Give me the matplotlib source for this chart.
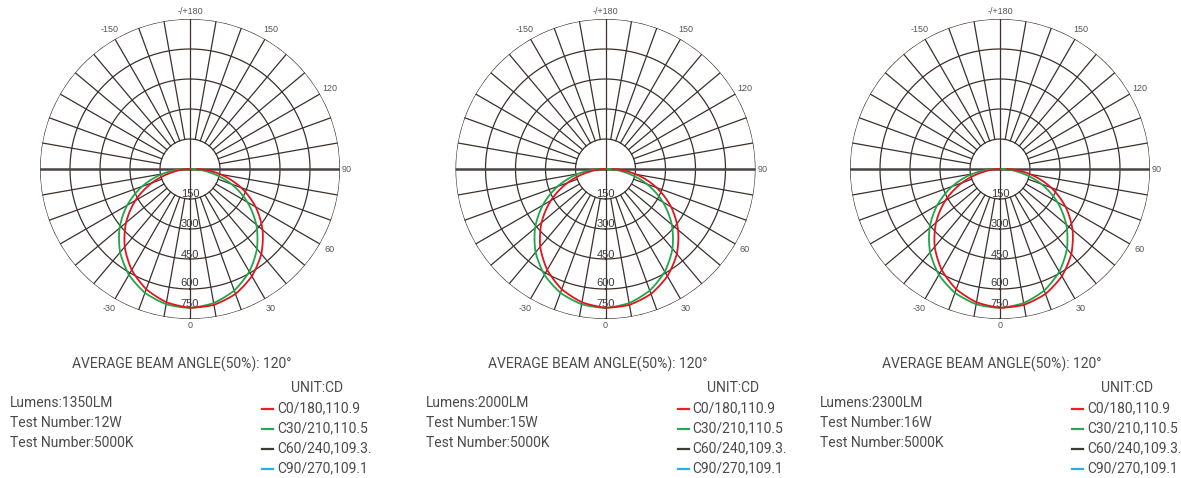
import numpy as np
import matplotlib
matplotlib.use("Agg")
import matplotlib.pyplot as plt
from matplotlib.lines import Line2D

W, H = 1181, 478

# measured angles (deg, 0 = straight down, positive towards the right)
angles = [-90, -80, -70, -60, -50, -40, -30, -20, -10, 0, 10, 20, 30, 40, 50, 60, 70, 80, 90]
# C0/180 (red) and C30/210 (green) intensities in cd
c0_cd = [0, 85, 203, 316, 418, 508, 583, 640, 677, 694, 690, 665, 619, 555, 474, 379, 272, 156, 36]
c30_cd = [18, 139, 255, 363, 460, 544, 611, 659, 687, 695, 681, 647, 593, 521, 433, 332, 221, 103, 0]

rings = [150, 300, 450, 600, 750]
ring_labels = ["150", "300", "450", "600", "750"]
angle_ticks = [180, 150, 120, 90, 60, 30, 0, -30, -150]
angle_tick_labels = ["-/+180", "150", "120", "90", "60", "30", "0", "-30", "-150"]

lumens = ["1350LM", "2000LM", "2300LM"]
watts = ["12W", "15W", "16W"]
cct = "5000K"
beam_angle = 120
legend_names = ["C0/180,110.9", "C30/210,110.5", "C60/240,109.3.", "C90/270,109.1"]
legend_colors = ["#e8202a", "#2aa55a", "#3d3a36", "#29aee8"]

centers_x = [190, 605.5, 1000]
center_y = 169
radius_px = 150

plt.rcParams["font.family"] = ["Roboto", "DejaVu Sans"]
CHART_FONT = ["Liberation Sans", "DejaVu Sans"]
TEXT = "#4a4a4a"
GRID = "#3b302c"

fig = plt.figure(figsize=(W / 100, H / 100), dpi=100)
fig.patch.set_facecolor("white")


def fx(x):
    return x / W


def fy(y):
    return 1 - y / H


full = np.linspace(0, 2 * np.pi, 721)
fine = np.arange(-90, 90.5, 1.0)

for i, cx in enumerate(centers_x):
    ax = fig.add_axes([fx(cx - radius_px), fy(center_y + radius_px),
                       2 * radius_px / W, 2 * radius_px / H], projection="polar")
    ax.set_theta_zero_location("S")
    ax.set_theta_direction(1)
    ax.set_ylim(0, 750)
    ax.grid(False)
    ax.set_xticks([])
    ax.set_yticks([])
    ax.spines["polar"].set_visible(False)
    ax.patch.set_alpha(0)

    for r in rings:
        ax.plot(full, np.full_like(full, r), color=GRID, lw=0.9, zorder=2)
    for a in range(0, 360, 10):
        t = np.deg2rad(a)
        if a in (90, 270):
            ax.plot([t, t], [0, 750], color="#4a4242", lw=1.8, zorder=2)
        elif a in (0, 180):
            ax.plot([t, t], [0, 750], color=GRID, lw=0.9, zorder=2)
        else:
            ax.plot([t, t], [150, 750], color=GRID, lw=0.9, zorder=2)

    for a, lab in zip(angle_ticks, angle_tick_labels):
        rr = 785 if a in (180, 0, 90) else 805
        ax.text(np.deg2rad(a), rr, lab, ha="center", va="center", fontsize=6.5,
                color="#555555", clip_on=False, family=CHART_FONT)

    for rr, lab in zip([125, 275, 428, 568, 675], ring_labels):
        ax.text(0, rr, lab, ha="center", va="center", fontsize=8, color="#3a3a3a", zorder=3,
                family=CHART_FONT)

    # draw the curves smoothly between the measured angles (linear in r vs angle)
    ax.plot(np.deg2rad(fine), np.interp(fine, angles, c30_cd), color="#1fa64a", lw=1.3, zorder=4)
    ax.plot(np.deg2rad(fine), np.interp(fine, angles, c0_cd), color="#e3141e", lw=1.3, zorder=5)

    fig.text(fx(cx - 8), fy(364), f"AVERAGE BEAM ANGLE(50%): {beam_angle}°", ha="center", va="center",
             fontsize=10, color=TEXT)
    info = [f"Lumens:{lumens[i]}", f"Test Number:{watts[i]}", f"Test Number:{cct}"]
    for k, line in enumerate(info):
        fig.text(fx(cx - 180), fy(403 + 20 * k), line, ha="left", va="center", fontsize=10, color=TEXT)

    fig.text(fx(cx + 127.5), fy(388), "UNIT:CD", ha="center", va="center", fontsize=10, color=TEXT)
    for k, (name, col) in enumerate(zip(legend_names, legend_colors)):
        yy = 408.5 + 20 * k
        fig.add_artist(Line2D([fx(cx + 72), fx(cx + 83)], [fy(yy), fy(yy)], color=col, lw=1.6,
                              transform=fig.transFigure))
        fig.text(fx(cx + 87), fy(yy), name, ha="left", va="center", fontsize=10, color=TEXT)

fig.savefig("out.png", dpi=100)
